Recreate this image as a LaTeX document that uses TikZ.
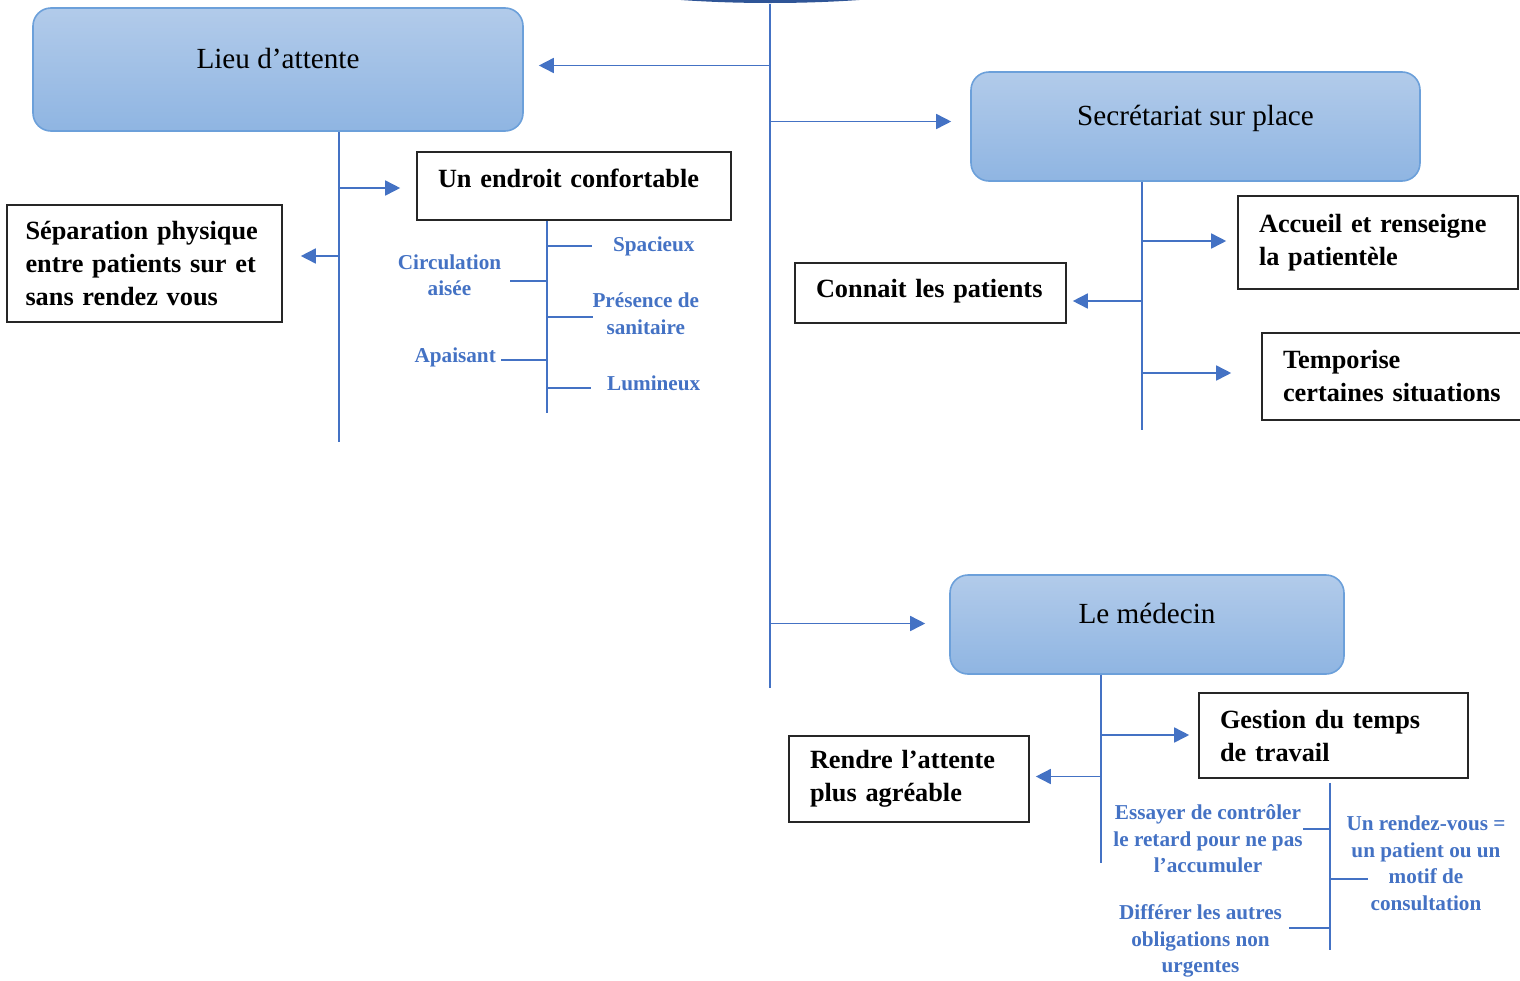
\documentclass[tikz,border=0pt]{standalone}
\usepackage{fontspec}
\setmainfont{Liberation Serif}
\usepackage{tikz}
\usetikzlibrary{arrows.meta,shapes.geometric}

\definecolor{lineblue}{RGB}{68,114,196}
\definecolor{hdrtop}{RGB}{178,203,234}
\definecolor{hdrbot}{RGB}{143,181,226}
\definecolor{hdrline}{RGB}{108,160,218}
\definecolor{rootblue}{RGB}{47,85,151}

\begin{document}
\begin{tikzpicture}[x=0.5pt,y=-0.5pt,>={Triangle[length=7.5pt,width=7.5pt]},line width=0.8pt,
    hdr/.style={draw=hdrline,rounded corners=9pt,top color=hdrtop,bottom color=hdrbot,
        font=\fontsize{14.6}{17}\selectfont,text height=10pt,text depth=11.5pt},
    leaf/.style={draw=black!85,align=left,inner xsep=10.5pt,inner ysep=0pt,
        font=\bfseries\fontsize{13.15}{16.5}\selectfont},
    lbl/.style={text=lineblue,align=center,inner sep=0pt,
        font=\bfseries\fontsize{10.6}{13.25}\selectfont},
    root/.style={ellipse,fill=rootblue,minimum width=285pt,minimum height=60pt}]

    \useasboundingbox (0,0) rectangle (1520,980);
    \clip (0,0) rectangle (1520,980);

    % The main boxes
    \node [root] at (770,-57) (root) {};
    \node [hdr,minimum width=245pt,minimum height=61.5pt] at (278,69.5) (lieu) {Lieu d’attente};
    \node [hdr,minimum width=224.5pt,minimum height=54.5pt] at (1195.5,126.5) (secr) {Secrétariat sur place};
    \node [hdr,minimum width=197pt,minimum height=49.5pt] at (1147,624.5) (med) {Le médecin};

    % The framed boxes
    \node [leaf,text width=119pt,inner xsep=9.25pt,minimum height=58.5pt] at (144.5,263.5) (sep) {Séparation physique\\entre patients sur et\\sans rendez vous};
    \node [leaf,text width=136pt,minimum height=34pt,text depth=8pt] at (574,186) (endroit) {Un endroit confortable};
    \node [leaf,text width=119pt,minimum height=46.5pt] at (1378,242.5) (accueil) {Accueil et renseigne\\la patientèle};
    \node [leaf,text width=114.5pt,minimum height=30pt,text depth=5pt] at (930.5,293) (connait) {Connait les patients};
    \node [leaf,text width=119pt,minimum height=43.5pt] at (1402,376.5) (tempo) {Temporise\\certaines situations};
    \node [leaf,text width=113.5pt,minimum height=42.5pt] at (1333.5,735.5) (gestion) {Gestion du temps\\de travail};
    \node [leaf,text width=99pt,minimum height=43pt] at (909,779) (rendre) {Rendre l’attente\\plus agréable};

    % The blue labels
    \node [lbl] at (653.8,246.5) (spacieux) {Spacieux};
    \node [lbl] at (449.5,275) (circ) {Circulation\\aisée};
    \node [lbl] at (645.8,313.5) (presence) {Présence de\\sanitaire};
    \node [lbl] at (455.2,357) (apaisant) {Apaisant};
    \node [lbl] at (653.7,383.5) (lumineux) {Lumineux};
    \node [lbl] at (1208,839) (essayer) {Essayer de contrôler\\le retard pour ne pas\\l’accumuler};
    \node [lbl] at (1426,863.5) (rdv) {Un rendez-vous =\\un patient ou un\\motif de\\consultation};
    \node [lbl] at (1200.5,941) (differer) {Différer les autres\\obligations non\\urgentes};

    % Stem ends and junctions
    \coordinate (spine) at (770,688);
    \coordinate (lstem) at (339,442);
    \coordinate (estem) at (547,413);
    \coordinate (sstem) at (1142,430);
    \coordinate (mstem) at (1101,863);
    \coordinate (gstem) at (1330,950);
    \coordinate (j1) at (770,65.5);
    \coordinate (j2) at (770,121.5);
    \coordinate (j3) at (770,623.5);
    \coordinate (l1) at (339,188);
    \coordinate (l2) at (339,256);
    \coordinate (s1) at (1142,241);
    \coordinate (s2) at (1142,301);
    \coordinate (s3) at (1142,373);
    \coordinate (m1) at (1101,735);
    \coordinate (m2) at (1101,776.5);
    \coordinate (spacT) at (592,246);
    \coordinate (circT) at (510,281);
    \coordinate (presT) at (593,317);
    \coordinate (apaiT) at (501,360);
    \coordinate (lumiT) at (591,388);
    \coordinate (essT) at (1303,829);
    \coordinate (rdvT) at (1368,879);
    \coordinate (diffT) at (1289,928);

    % Stems
    \path[-,color=lineblue]
    (root.south) edge (spine)
    (lieu.south -| lstem) edge (lstem)
    (endroit.south -| estem) edge (estem)
    (secr.south -| sstem) edge (sstem)
    (med.south -| mstem) edge (mstem)
    (gestion.south -| gstem) edge[shorten <=2pt] (gstem)
    ;

    % Arrows
    \path[->,color=lineblue]
    (j1) edge[shorten >=7.5pt] (j1 -| lieu.east)
    (j2) edge[shorten >=9.5pt] (j2 -| secr.west)
    (j3) edge[shorten >=12pt] (j3 -| med.west)
    (l1) edge[shorten >=8pt] (l1 -| endroit.west)
    (l2) edge[shorten >=9pt] (l2 -| sep.east)
    (s1) edge[shorten >=5.5pt] (s1 -| accueil.west)
    (s2) edge[shorten >=3pt] (s2 -| connait.east)
    (s3) edge[shorten >=15pt] (s3 -| tempo.west)
    (m1) edge[shorten >=4.5pt] (m1 -| gestion.west)
    (m2) edge[shorten >=3pt] (m2 -| rendre.east)
    ;

    % Label branches
    \path[-,color=lineblue]
    (spacT -| estem) edge (spacT)
    (circT -| estem) edge (circT)
    (presT -| estem) edge (presT)
    (apaiT -| estem) edge (apaiT)
    (lumiT -| estem) edge (lumiT)
    (essT -| gstem) edge (essT)
    (rdvT -| gstem) edge (rdvT)
    (diffT -| gstem) edge (diffT)
    ;

\end{tikzpicture}
\end{document}
